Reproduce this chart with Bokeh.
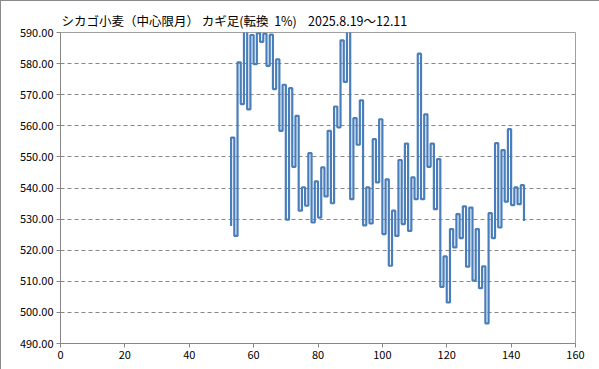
from bokeh.plotting import figure
from bokeh.models import Range1d, FixedTicker, NumeralTickFormatter
from bokeh.embed import file_html
from bokeh.resources import INLINE

# Kagi chart (1% reversal): x position of each vertical stroke, and price levels
kagi_x = list(range(53, 145))
start_value = 527.8
turn_values = [
    556.2, 524.6, 580.4, 567.0, 593.0, 565.3, 589.2, 579.8, 589.8, 587.0,
    589.6, 579.3, 589.3, 571.8, 581.4, 558.4, 573.2, 529.8, 572.1, 546.8,
    563.2, 532.7, 540.2, 534.3, 551.2, 528.9, 542.1, 530.5, 546.6, 537.3,
    558.4, 535.1, 566.2, 559.5, 587.5, 574.1, 592.0, 536.4, 562.5, 553.9,
    568.2, 528.0, 540.2, 528.6, 555.7, 541.8, 562.1, 525.2, 542.8, 515.0,
    532.7, 524.6, 549.0, 528.4, 554.3, 526.2, 543.4, 536.4, 583.2, 536.4,
    563.7, 546.8, 554.3, 533.2, 549.3, 508.2, 518.0, 503.2, 526.8, 520.9,
    531.6, 523.9, 534.1, 514.7, 533.7, 510.2, 526.8, 507.8, 514.8, 496.5,
    531.9, 523.9, 554.4, 527.3, 552.2, 535.6, 558.9, 534.5, 540.2, 534.8,
    540.9, 529.4,
]
x_ticks = [0, 20, 40, 60, 80, 100, 120, 140, 160]
y_ticks = [490, 500, 510, 520, 530, 540, 550, 560, 570, 580, 590]
NB = "\u00a0"
title_text = ("シカゴ小麦（中心限月）" + NB + "カギ足(転換" + NB * 2 + "1%)"
              + NB * 4 + "2025.8.19～12.11")

# build kagi path: vertical at each x, horizontal shoulder/waist to next x
xs = [kagi_x[0]]
ys = [start_value]
for i, x in enumerate(kagi_x):
    if i > 0:
        xs.append(x)
        ys.append(turn_values[i - 1])
    xs.append(x)
    ys.append(turn_values[i])

FONT = "Noto Sans CJK JP"
GRID = "#868686"

p = figure(
    frame_width=515, frame_height=311,
    min_border_left=59, min_border_right=25, min_border_top=31, min_border_bottom=27,
    x_range=Range1d(0, 160), y_range=Range1d(490, 590),
    output_backend="svg", toolbar_location=None,
    background_fill_color="white", border_fill_color="white",
    styles={"border": "1px solid #8a8a8a", "box-sizing": "border-box"},
)

p.title.text = title_text
p.title.text_font = FONT
p.title.text_font_size = "12.5px"
p.title.text_font_style = "normal"
p.title.text_color = "#000000"
p.title.align = "left"
p.title.offset = 1
p.title.standoff = 6

p.outline_line_color = "#a0a0a0"
p.outline_line_width = 1

p.line(xs, ys, line_color="#4A7EBB", line_width=2.2)

p.xaxis.ticker = FixedTicker(ticks=x_ticks)
p.yaxis.ticker = FixedTicker(ticks=y_ticks)
p.yaxis.formatter = NumeralTickFormatter(format="0.00")
for ax in (p.xaxis, p.yaxis):
    ax.axis_line_color = "#868686"
    ax.major_tick_line_color = "#868686"
    ax.major_tick_out = 4
    ax.major_tick_in = 0
    ax.minor_tick_line_color = None
    ax.major_label_text_font = FONT
    ax.major_label_text_font_size = "11px"
    ax.major_label_text_color = "#000000"
    ax.major_label_standoff = 3

p.xgrid.grid_line_color = None
p.ygrid.grid_line_color = GRID
p.ygrid.grid_line_dash = "4 3"
p.ygrid.grid_line_width = 1

open("out.html", "w").write(file_html(p, INLINE))
